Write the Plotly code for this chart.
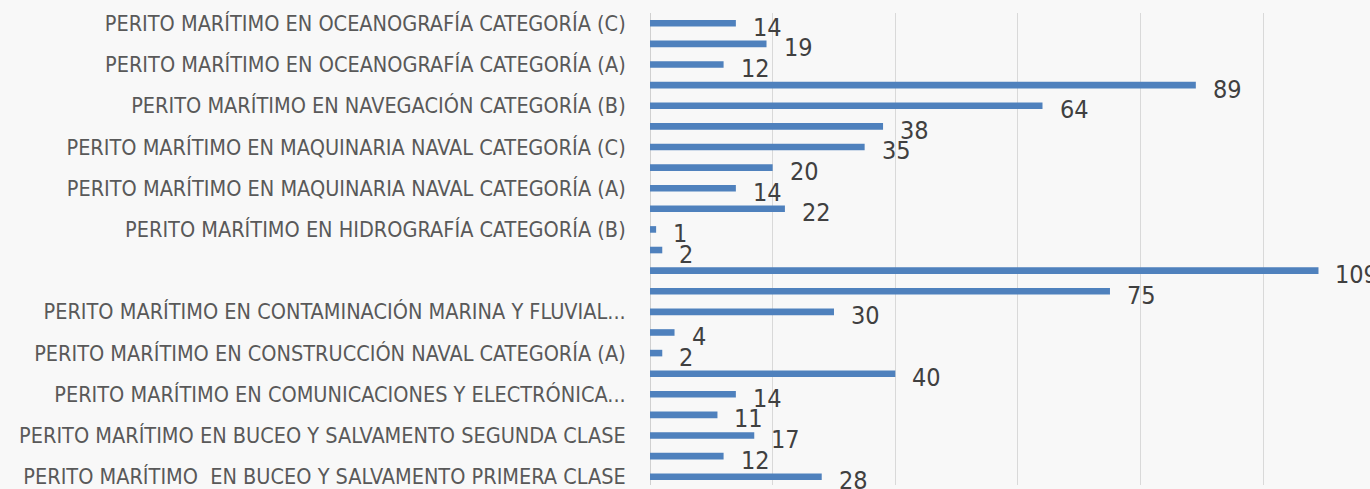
import plotly.graph_objects as go

# categories top -> bottom (only every other one is labelled on the chart)
labels = [
    "PERITO MARÍTIMO EN OCEANOGRAFÍA CATEGORÍA (C)", "",
    "PERITO MARÍTIMO EN OCEANOGRAFÍA CATEGORÍA (A)", "",
    "PERITO MARÍTIMO EN NAVEGACIÓN CATEGORÍA (B)", "",
    "PERITO MARÍTIMO EN MAQUINARIA NAVAL CATEGORÍA (C)", "",
    "PERITO MARÍTIMO EN MAQUINARIA NAVAL CATEGORÍA (A)", "",
    "PERITO MARÍTIMO EN HIDROGRAFÍA CATEGORÍA (B)", "",
    "", "",
    "PERITO MARÍTIMO EN CONTAMINACIÓN MARINA Y FLUVIAL...", "",
    "PERITO MARÍTIMO EN CONSTRUCCIÓN NAVAL CATEGORÍA (A)", "",
    "PERITO MARÍTIMO EN COMUNICACIONES Y ELECTRÓNICA...", "",
    "PERITO MARÍTIMO EN BUCEO Y SALVAMENTO SEGUNDA CLASE", "",
    "PERITO MARÍTIMO  EN BUCEO Y SALVAMENTO PRIMERA CLASE",
]
values = [14, 19, 12, 89, 64, 38, 35, 20, 14, 22, 1, 2, 109, 75, 30, 4, 2, 40, 14, 11, 17, 12, 28]
positions = list(range(len(values)))

font_fam = "Liberation Sans Narrow, Arial Narrow, DejaVu Sans Condensed, Liberation Sans, Arial"

fig = go.Figure()
fig.add_trace(go.Bar(
    x=values,
    y=positions,
    orientation="h",
    width=0.32,
    marker=dict(color="#4f81bd", line=dict(width=0)),
    showlegend=False,
    hoverinfo="x",
))

for v, p in zip(values, positions):
    fig.add_annotation(
        x=v, y=p, text=str(v), showarrow=False,
        xanchor="left", yanchor="middle", xshift=15, yshift=-4,
        font=dict(family=font_fam, size=25, color="#404040"),
    )

fig.update_layout(
    width=1370, height=489,
    margin=dict(l=650, r=0, t=13, b=0),
    paper_bgcolor="#f8f8f8",
    plot_bgcolor="#f8f8f8",
)
fig.update_xaxes(
    range=[0, 117.4], dtick=20, showgrid=True, gridcolor="#d9d9d9", gridwidth=1,
    zeroline=True, zerolinecolor="#d0d0d0", zerolinewidth=1,
    showticklabels=False, ticks="",
)
fig.update_yaxes(
    range=[22.4, -0.5], tickvals=positions, ticktext=labels,
    showgrid=False, zeroline=False, ticks="outside", ticklen=0,
    ticklabelstandoff=19, ticklabeloverflow="allow",
    tickfont=dict(family=font_fam, size=21.5, color="#595959"),
)

fig.write_html("out.html", config={"displayModeBar": False},
               post_script="document.body.style.margin='0';")
